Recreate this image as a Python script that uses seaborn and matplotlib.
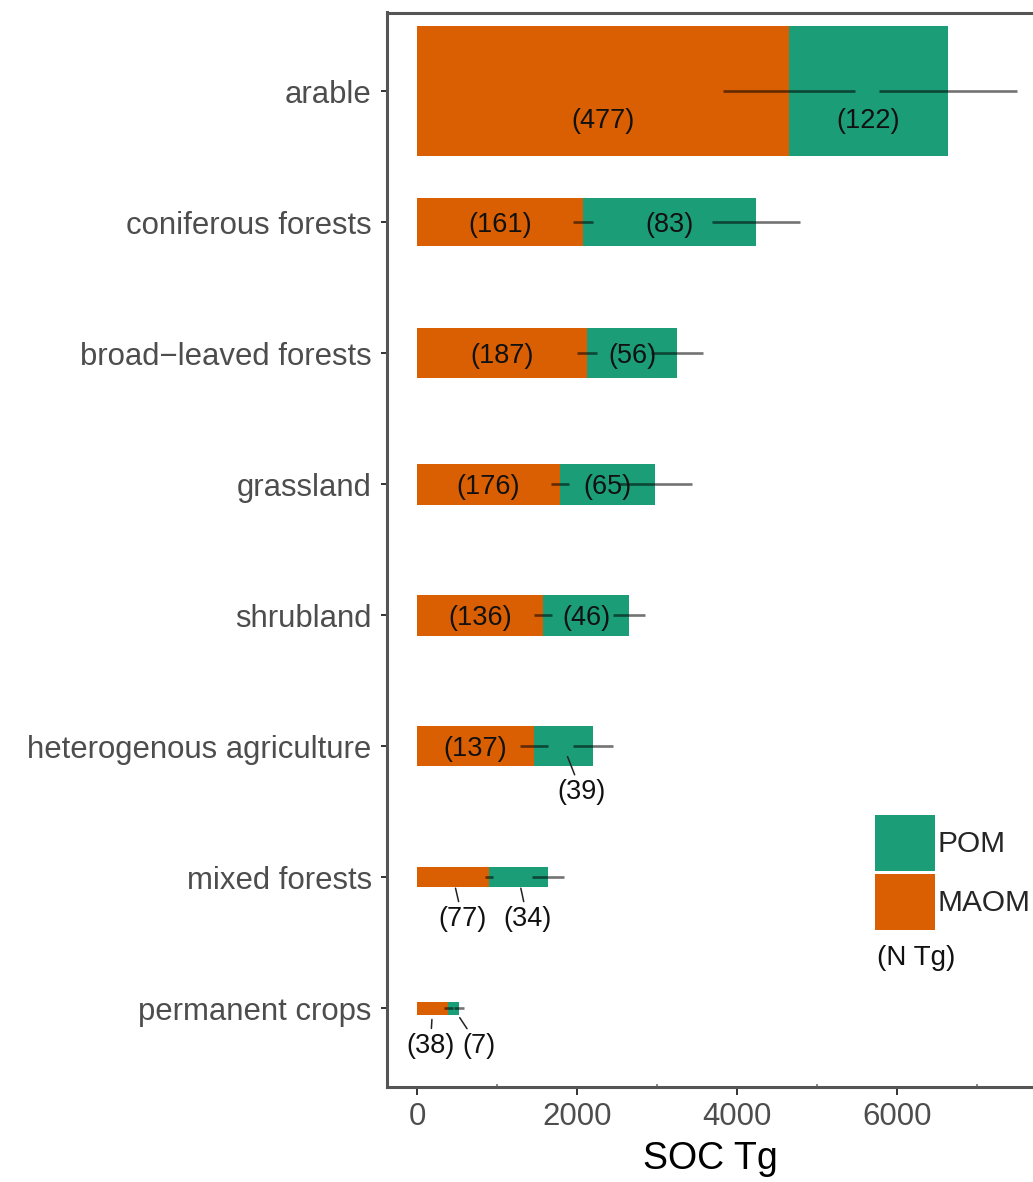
import matplotlib
matplotlib.use("Agg")
import matplotlib.pyplot as plt
import seaborn as sns
import pandas as pd
from matplotlib.patches import Patch
from matplotlib.ticker import MultipleLocator, NullFormatter

# -----------------------------
# Data (SOC in Tg, N stocks in Tg)
# -----------------------------
land_use = ["arable", "coniferous forests", "broad\u2212leaved forests", "grassland",
            "shrubland", "heterogenous agriculture", "mixed forests", "permanent crops"]
maom_soc = [4650, 2075, 2125, 1790, 1575, 1462, 900, 388]
pom_soc = [1990, 2162, 1125, 1188, 1075, 738, 737, 138]
maom_sd = [830, 120, 125, 112, 112, 180, 50, 56]
pom_sd = [862, 550, 320, 456, 206, 250, 200, 62]
maom_n = [477, 161, 187, 176, 136, 137, 77, 38]
pom_n = [122, 83, 56, 65, 46, 39, 34, 7]

# bar thickness per land use (category units)
bar_height = [0.99, 0.37, 0.38, 0.31, 0.31, 0.305, 0.155, 0.10]

MAOM_COL = "#D95F02"
POM_COL = "#1B9E77"

# labels moved off their segment (offset in points); leader line drawn when True
label_offset = {
    ("arable", "maom"): (0, -19, False),
    ("arable", "pom"): (0, -19, False),
    ("heterogenous agriculture", "pom"): (13, -31, True),
    ("mixed forests", "maom"): (7, -28, True),
    ("mixed forests", "pom"): (6.5, -28, True),
    ("permanent crops", "maom"): (-1.5, -25, True),
    ("permanent crops", "pom"): (18, -25, True),
}

df = pd.DataFrame({"land": land_use, "maom": maom_soc, "pom": pom_soc,
                   "maom_sd": maom_sd, "pom_sd": pom_sd})
df["total"] = df["maom"] + df["pom"]

sns.set_theme(style="white")
plt.rcParams["font.family"] = ["Liberation Sans", "DejaVu Sans"]

W, H = 1033, 1182
fig = plt.figure(figsize=(W / 100, H / 100), dpi=100)
ax = fig.add_axes([387 / W, 1 - 1087 / H, 1 - 387 / W, (1087 - 12.5) / H])

# stacked bars: total (POM on top of MAOM) then MAOM
sns.barplot(data=df, x="total", y="land", color=POM_COL, saturation=1,
            errorbar=None, linewidth=0, orient="h", ax=ax)
sns.barplot(data=df, x="maom", y="land", color=MAOM_COL, saturation=1,
            errorbar=None, linewidth=0, orient="h", ax=ax)

n = len(land_use)
for i, p in enumerate(ax.patches):
    h = bar_height[i % n]
    yc = p.get_y() + p.get_height() / 2
    p.set_height(h)
    p.set_y(yc - h / 2)

ypos = list(range(n))
ax.errorbar(df["maom"], ypos, xerr=df["maom_sd"], fmt="none", ecolor="black",
            alpha=0.55, elinewidth=1.9, capsize=0)
ax.errorbar(df["total"], ypos, xerr=df["pom_sd"], fmt="none", ecolor="black",
            alpha=0.55, elinewidth=1.9, capsize=0)

# N stock labels
for i, land in enumerate(land_use):
    for part, xmid, val in [("maom", maom_soc[i] / 2, maom_n[i]),
                            ("pom", maom_soc[i] + pom_soc[i] / 2, pom_n[i])]:
        dx, dy, leader = label_offset.get((land, part), (0, 0, False))
        arrow = dict(arrowstyle="-", color="#222222", lw=1.1,
                     shrinkA=1, shrinkB=8) if leader else None
        ax.annotate(f"({val})", xy=(xmid, i), xytext=(dx, dy),
                    textcoords="offset points", ha="center", va="center_baseline",
                    fontsize=19.5, color="#111111", arrowprops=arrow)

ax.set_xlim(-375, 7700)
ax.set_ylim(7.6, -0.6)
ax.set_ylabel("")
ax.set_xlabel("SOC Tg", fontsize=27, color="black", labelpad=6)
ax.set_xticks([0, 2000, 4000, 6000])
ax.xaxis.set_minor_locator(MultipleLocator(1000))
ax.xaxis.set_minor_formatter(NullFormatter())

ax.tick_params(axis="both", which="major", direction="out", color="#333333",
               width=1.4, labelcolor="#4D4D4D", labelsize=22.4)
ax.tick_params(axis="x", which="major", bottom=True, length=6, pad=5)
ax.tick_params(axis="y", which="major", left=True, length=4.5, pad=6.5)
ax.tick_params(axis="x", which="minor", direction="in", length=2, width=1.2,
               color="#777777", bottom=True)
ax.tick_params(axis="y", which="minor", left=False)

for side in ["left", "bottom", "top"]:
    ax.spines[side].set_visible(True)
    ax.spines[side].set_color("#555555")
    ax.spines[side].set_linewidth(2.2)
ax.spines["right"].set_visible(False)

top = ax.secondary_xaxis("top")
top.xaxis.set_major_locator(MultipleLocator(1000))
top.xaxis.set_major_formatter(NullFormatter())
top.tick_params(direction="in", length=2, width=1.2, color="#777777", top=True)
top.spines["top"].set_visible(False)

# legend
fig.legend(handles=[Patch(facecolor=POM_COL, linewidth=0, label="POM"),
                    Patch(facecolor=MAOM_COL, linewidth=0, label="MAOM")],
           loc="upper left", bbox_to_anchor=(875 / W, 1 - 815 / H),
           frameon=False, fontsize=21.5, handlelength=2.0, handleheight=2.5,
           labelspacing=0.1, handletextpad=0.1, borderpad=0, borderaxespad=0)
fig.text(877 / W, 1 - 958 / H, "(N Tg)", fontsize=20, va="center", ha="left",
         color="#111111")

fig.savefig("out.png", dpi=100)
